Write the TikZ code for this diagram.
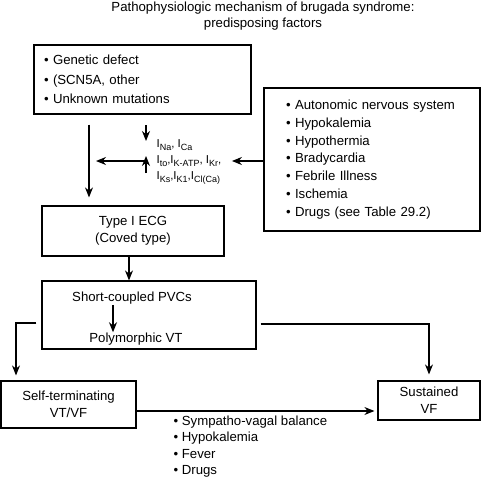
\documentclass[tikz,border=0pt]{standalone}
\usepackage{fontspec}
\setmainfont{Liberation Sans}
\usetikzlibrary{arrows.meta}
\newcommand{\Icur}[1]{I\raisebox{-0.45ex}{\fontsize{9}{9}\selectfont #1}}

\begin{document}
\begin{tikzpicture}[x=1pt, y=-1pt, line width=1.2pt,
    arr/.style={-{Stealth[length=10pt, width=8pt]}},
    frame/.style={draw, inner sep=0pt, align=center, font=\fontsize{13.2}{17}\selectfont},
    listbox/.style={draw, align=left, inner ysep=0pt}]
    \useasboundingbox (0,0) rectangle (482,479);
    % Title
    \node[align=center, font=\fontsize{13.2}{16}\selectfont] (title) at (263,16) {Pathophysiologic mechanism of brugada syndrome:\\ predisposing factors};
    % Predisposing factors
    \node[listbox, inner xsep=10pt, text width=197pt, minimum height=69pt, font=\fontsize{13.2}{19.5}\selectfont] (genetic) at (142.5,79.5) {\textbullet\ Genetic defect\\ \textbullet\ (SCN5A, other\\ \textbullet\ Unknown mutations};
    \node[listbox, inner xsep=22pt, text width=172pt, minimum height=143pt, font=\fontsize{13.2}{17.9}\selectfont] (autonomic) at (372,159.5) {\textbullet\ Autonomic nervous system\\ \textbullet\ Hypokalemia\\ \textbullet\ Hypothermia\\ \textbullet\ Bradycardia\\ \textbullet\ Febrile Illness\\ \textbullet\ Ischemia\\ \textbullet\ Drugs (see Table 29.2)};
    % Ionic currents
    \coordinate (trunk) at (89,161);
    \node[anchor=west, inner sep=0pt, align=left, font=\fontsize{11.5}{16}\selectfont] (ions) at (156,162) {\Icur{Na}, \Icur{Ca}\\ \Icur{to},\Icur{K-ATP}, \Icur{Kr},\\ \Icur{Ks},\Icur{K1},\Icur{Cl(Ca)}};
    \draw[arr] ([shift={(-10,-37)}]ions.west) -- ([shift={(-10,-21)}]ions.west);
    \draw[arr] ([shift={(-10,11)}]ions.west) -- ([shift={(-10,-6)}]ions.west);
    \draw[arr, shorten >=7pt] ([shift={(-9,-1)}]ions.west) -- (trunk);
    \draw[arr, shorten >=10pt] (autonomic.west |- trunk) -- (ions.east |- trunk);
    % ECG and arrhythmia
    \node[frame, minimum width=182pt, minimum height=50pt] (typeI) at (133,231) {Type I ECG\\ (Coved type)};
    \node[draw, minimum width=214pt, minimum height=68pt] (pvc) at (149,315) {};
    \node[inner sep=0pt, font=\fontsize{13.2}{16}\selectfont] (pvcs) at (132,298) {Short-coupled PVCs};
    \node[inner sep=0pt, font=\fontsize{13.2}{16}\selectfont] (poly) at (136,339) {Polymorphic VT};
    \node[frame, minimum width=135pt, minimum height=47pt] (selfterm) at (68.5,404.5) {Self-terminating\\ VT/VF};
    \node[frame, minimum width=102pt, minimum height=39pt] (sustained) at (429,400.5) {Sustained\\ VF};
    \node[anchor=west, inner sep=0pt, align=left, font=\fontsize{13.2}{16.3}\selectfont] (modul) at (173,446.5) {\textbullet\ Sympatho-vagal balance\\ \textbullet\ Hypokalemia\\ \textbullet\ Fever\\ \textbullet\ Drugs};
    % Arrows
    \draw[arr, shorten <=10pt, shorten >=8pt] (genetic.south -| trunk) -- (typeI.north -| trunk);
    \draw[arr] (typeI.south -| 129,0) -- (pvc.north -| 129,0);
    \draw[arr] (pvcs.south -| 113,0) -- (poly.north -| 113,0);
    \draw[arr, shorten <=5pt, shorten >=5pt] (pvc.west |- 0,323) -| (selfterm.north -| 16,0);
    \draw[arr, shorten <=4pt, shorten >=6pt] (pvc.east |- 0,324) -| (sustained.north);
    \draw[arr, shorten >=3pt] (selfterm.east |- 0,411) -- (sustained.west |- 0,411);
\end{tikzpicture}
\end{document}
